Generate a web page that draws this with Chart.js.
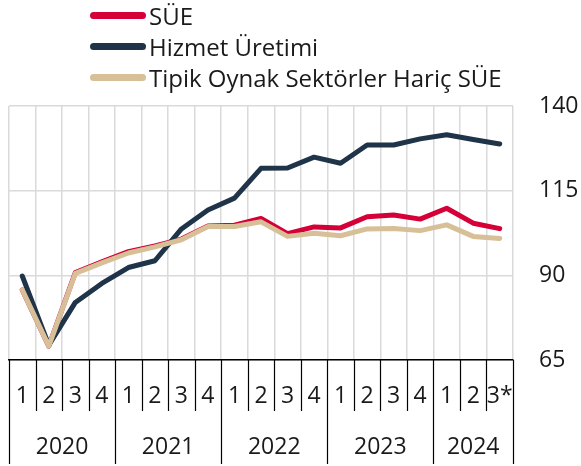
<!DOCTYPE html>
<html>
<head>
<meta charset="utf-8">
<script src="https://cdn.jsdelivr.net/npm/chart.js@4"></script>
<style>
  body { margin: 0; background: #fff; font-family: "Open Sans", sans-serif; }
  #wrap { position: relative; width: 581px; height: 466px; }
  #legend { position: absolute; left: 90px; top: 0; font-size: 24px; color: #1a1a1a; }
  #legend div { display: flex; align-items: center; height: 31px; }
  #legend span.sw { display: inline-block; width: 56px; height: 7px; border-radius: 4px; margin-right: 3px; }
</style>
</head>
<body>
<div id="wrap">
  <canvas id="c"></canvas>
  <div id="legend"></div>
</div>
<script>
// quarterly index values, 2020Q1 .. 2024Q3
const quarterLabels = ['1', '2', '3', '4', '1', '2', '3', '4', '1', '2', '3', '4', '1', '2', '3', '4', '1', '2', '3*'];
const yearLabels = ['2020', '2021', '2022', '2023', '2024'];

const sue = [85.7, 69.1, 90.8, 94.0, 97.0, 98.7, 100.7, 104.6, 104.8, 106.8, 102.3, 104.3, 104.0, 107.3, 107.8, 106.6, 109.8, 105.4, 103.8];
const hizmet = [89.8, 69.4, 82.0, 87.6, 92.3, 94.3, 103.7, 109.3, 112.8, 121.6, 121.7, 124.9, 123.1, 128.5, 128.5, 130.3, 131.5, 130.1, 128.8];
const tipik = [85.7, 69.1, 90.6, 93.7, 96.6, 98.4, 100.5, 104.4, 104.4, 105.8, 101.5, 102.4, 101.7, 103.7, 103.8, 103.2, 104.9, 101.5, 100.9];

const yTicks = [65, 90, 115, 140];

const TEXT = '#1a1a1a';
const GRID = '#dadada';

const datasets = [
    { label: 'SÜE', data: sue, borderColor: '#d50037', order: 2 },
    { label: 'Hizmet Üretimi', data: hizmet, borderColor: '#1f3349', order: 1 },
    { label: 'Tipik Oynak Sektörler Hariç SÜE', data: tipik, borderColor: '#d7bf98', order: 0 }
].map(d => Object.assign(d, {
    borderWidth: 5,
    pointRadius: 0,
    tension: 0,
    fill: false,
    borderCapStyle: 'round',
    borderJoinStyle: 'round'
}));

// html legend
const legendEl = document.getElementById('legend');
datasets.forEach(d => {
    const row = document.createElement('div');
    row.innerHTML = `<span class="sw" style="background:${d.borderColor}"></span>${d.label}`;
    legendEl.appendChild(row);
});

// year dividers + year labels under the quarter ticks
const yearAxis = {
    id: 'yearAxis',
    afterDraw(chart) {
        const { ctx, chartArea } = chart;
        const x = chart.scales.x;
        const half = (x.getPixelForValue(1) - x.getPixelForValue(0)) / 2;
        const top = chartArea.bottom;
        ctx.save();
        ctx.strokeStyle = '#000';
        ctx.lineWidth = 1.2;
        let yearStart = 0, yi = 0;
        for (let i = 0; i <= quarterLabels.length; i++) {
            const px = Math.round(x.getPixelForValue(i) - half) + 0.5;
            const isYear = i === quarterLabels.length || quarterLabels[i].startsWith('1');
            ctx.beginPath();
            ctx.moveTo(px, top);
            ctx.lineTo(px, isYear ? 464 : 411);
            ctx.stroke();
            if (isYear && i > 0) {
                const mid = (x.getPixelForValue(yearStart) + x.getPixelForValue(i - 1)) / 2;
                ctx.fillStyle = TEXT;
                ctx.font = '23px "Open Sans"';
                ctx.textAlign = 'center';
                ctx.textBaseline = 'middle';
                ctx.fillText(yearLabels[yi++], mid, 447);
                yearStart = i;
            }
        }
        ctx.restore();
    }
};

new Chart(document.getElementById('c'), {
    type: 'line',
    data: { labels: quarterLabels, datasets: datasets },
    options: {
        responsive: true,
        maintainAspectRatio: false,
        animation: false,
        layout: { padding: { top: 106, left: 9, right: 0, bottom: 0 } },
        plugins: { legend: { display: false }, tooltip: { enabled: false } },
        scales: {
            x: {
                offset: true,
                grid: { offset: true, color: GRID, lineWidth: 1.5, drawTicks: false },
                border: { color: '#000', width: 1.5 },
                ticks: { color: TEXT, font: { family: 'Open Sans', size: 23 }, padding: 23, maxRotation: 0, autoSkip: false },
                afterFit: s => { s.height = 106; s.paddingLeft = 0; s.paddingRight = 0; }
            },
            y: {
                position: 'right',
                min: 65,
                max: 140,
                afterBuildTicks: s => { s.ticks = yTicks.map(v => ({ value: v })); },
                grid: { color: GRID, lineWidth: 1.5, drawTicks: false },
                border: { display: false },
                ticks: { color: TEXT, font: { family: 'Open Sans', size: 23 }, padding: 26 },
                afterFit: s => { s.width = 68; }
            }
        }
    },
    plugins: [yearAxis]
});
</script>
</body>
</html>
